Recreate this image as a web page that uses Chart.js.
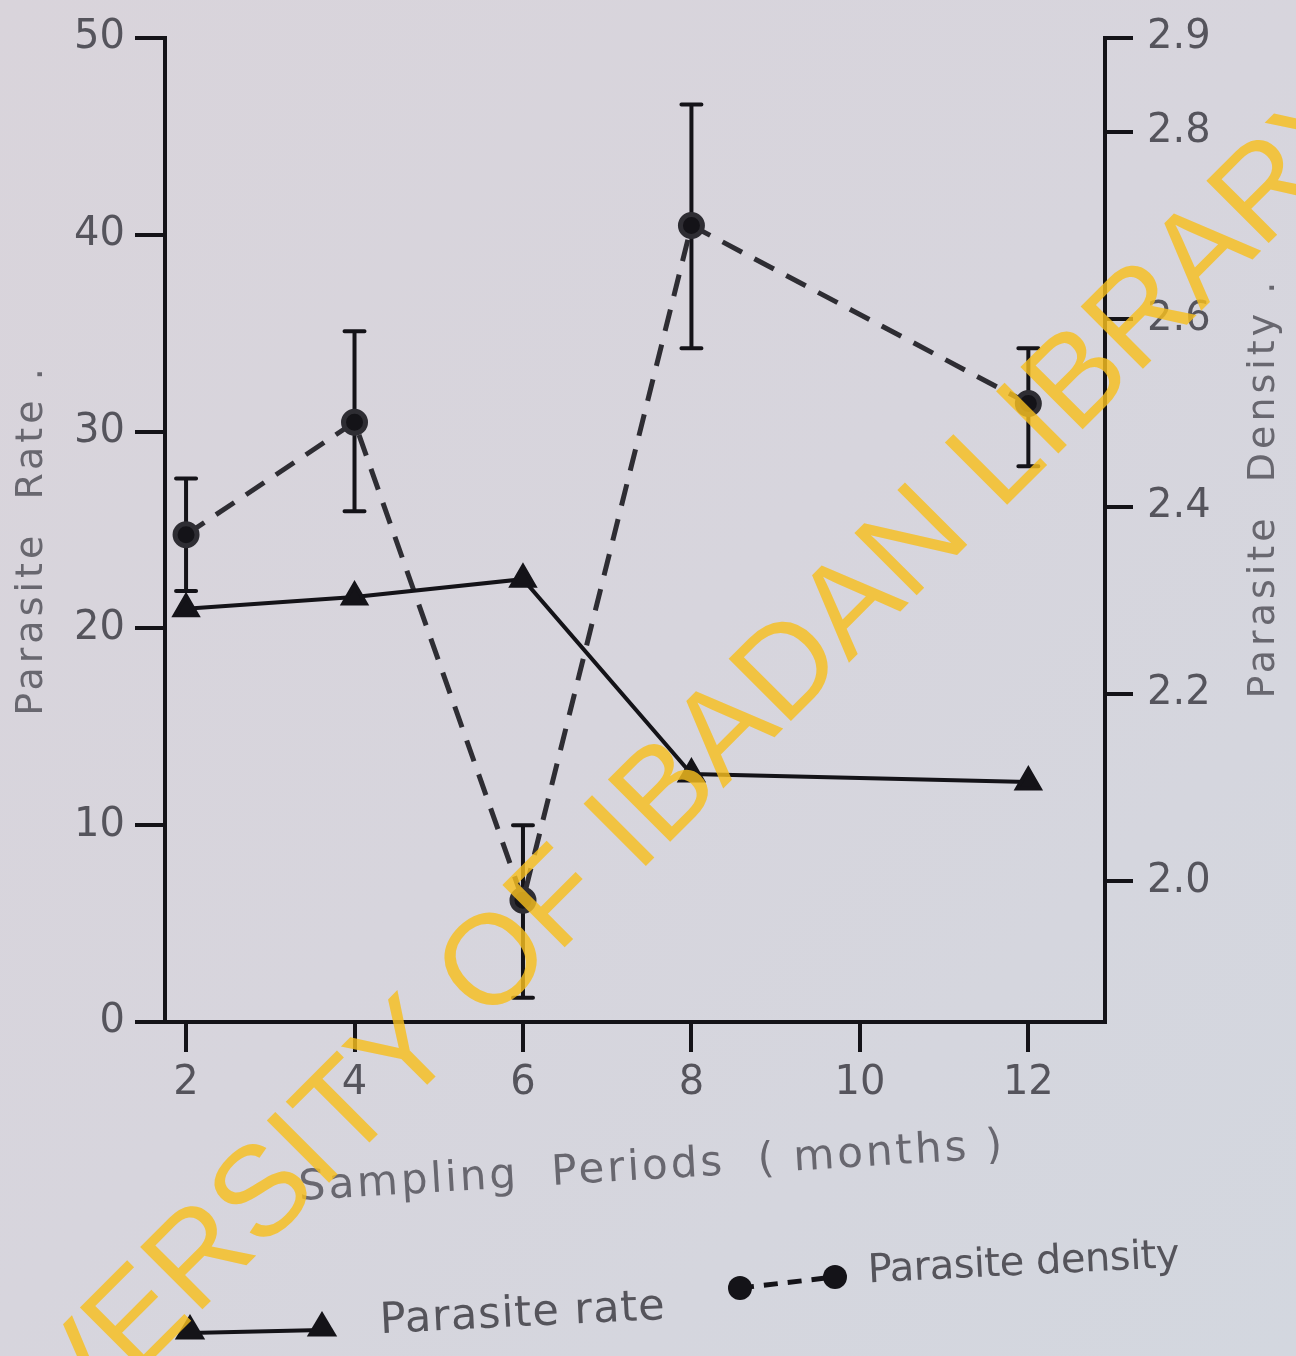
<!DOCTYPE html>
<html>
<head>
<meta charset="utf-8">
<script src="https://cdn.jsdelivr.net/npm/chart.js@4.4.1/dist/chart.umd.min.js"></script>
<style>
  html,body{margin:0;padding:0;}
  body{width:1296px;height:1356px;background:linear-gradient(135deg,#d9d4db 0%,#d7d5dd 50%,#d3d7df 100%);overflow:hidden;}
  canvas{display:block;}
</style>
</head>
<body>
<canvas id="c" width="1296" height="1356"></canvas>
<script>
// ---- data ----
const months = [2, 4, 6, 8, 12];
const xTicks = [2, 4, 6, 8, 10, 12];
const rateTicks = [0, 10, 20, 30, 40, 50];
const densityTicks = [2.0, 2.2, 2.4, 2.6, 2.8, 2.9];
const parasiteRate = [21.0, 21.6, 22.5, 12.6, 12.2];
const parasiteDensity = [2.37, 2.49, 1.98, 2.70, 2.51];
const densityLow = [2.31, 2.395, 1.876, 2.569, 2.443];
const densityHigh = [2.43, 2.587, 2.06, 2.829, 2.569];
const xTitle = 'Sampling  Periods  ( months )';
const yTitle = 'Parasite  Rate .';
const y2Title = 'Parasite  Density .';
const legendRate = 'Parasite rate';
const legendDensity = 'Parasite density';
const watermark = 'UNIVERSITY OF IBADAN LIBRARY';

const INK = '#141318';
const LABEL = '#55545c';
const FONT = '"DejaVu Sans", sans-serif';

const errorBars = {
  id: 'errorBars',
  beforeDatasetsDraw(chart) {
    const ctx = chart.ctx, xs = chart.scales.x, ys = chart.scales.y2;
    ctx.save();
    ctx.strokeStyle = INK; ctx.lineWidth = 4; ctx.lineCap = 'round';
    months.forEach((m, i) => {
      const px = xs.getPixelForValue(m);
      const t = ys.getPixelForValue(densityHigh[i]);
      const b = ys.getPixelForValue(densityLow[i]);
      ctx.beginPath();
      ctx.moveTo(px, t); ctx.lineTo(px, b);
      ctx.moveTo(px - 10, t); ctx.lineTo(px + 10, t);
      ctx.moveTo(px - 10, b); ctx.lineTo(px + 10, b);
      ctx.stroke();
    });
    ctx.restore();
  }
};

function tri(ctx, x, y, r) {
  ctx.beginPath();
  ctx.moveTo(x, y - r);
  ctx.lineTo(x + r * 0.95, y + r * 0.6);
  ctx.lineTo(x - r * 0.95, y + r * 0.6);
  ctx.closePath(); ctx.fill();
}

const decorations = {
  id: 'decorations',
  afterDraw(chart) {
    const ctx = chart.ctx;
    ctx.save();
    // axis titles
    ctx.fillStyle = '#68676f';
    ctx.textAlign = 'center'; ctx.textBaseline = 'middle';
    ctx.font = '38px ' + FONT;
    ctx.letterSpacing = '4px';
    ctx.save(); ctx.translate(32, 540); ctx.rotate(-Math.PI / 2); ctx.fillText(yTitle, 0, 0); ctx.restore();
    ctx.save(); ctx.translate(1264, 488); ctx.rotate(-Math.PI / 2); ctx.fillText(y2Title, 0, 0); ctx.restore();
    ctx.font = '42px ' + FONT;
    ctx.letterSpacing = '3px';
    ctx.save(); ctx.translate(652, 1168); ctx.rotate(-0.06); ctx.fillText(xTitle, 0, 0); ctx.restore();
    ctx.letterSpacing = '0px';

    // legend
    ctx.fillStyle = INK; ctx.strokeStyle = INK;
    ctx.lineWidth = 4;
    ctx.beginPath(); ctx.moveTo(190, 1333); ctx.lineTo(322, 1330); ctx.stroke();
    tri(ctx, 190, 1330, 16); tri(ctx, 322, 1327, 16);
    ctx.lineWidth = 5; ctx.setLineDash([14, 10]);
    ctx.beginPath(); ctx.moveTo(740, 1288); ctx.lineTo(835, 1277); ctx.stroke();
    ctx.setLineDash([]);
    ctx.beginPath(); ctx.arc(740, 1288, 12, 0, Math.PI * 2); ctx.fill();
    ctx.beginPath(); ctx.arc(835, 1277, 12, 0, Math.PI * 2); ctx.fill();
    ctx.fillStyle = '#55545b';
    ctx.textAlign = 'left';
    ctx.font = '43px ' + FONT; ctx.letterSpacing = '1px';
    ctx.save(); ctx.translate(380, 1322); ctx.rotate(-0.05); ctx.fillText(legendRate, 0, 0); ctx.restore();
    ctx.font = '40px ' + FONT; ctx.letterSpacing = '-0.5px';
    ctx.save(); ctx.translate(868, 1272); ctx.rotate(-0.05); ctx.fillText(legendDensity, 0, 0); ctx.restore();
    ctx.letterSpacing = '0px';

    // watermark
    ctx.font = '128px "Liberation Sans", sans-serif';
    ctx.fillStyle = 'rgba(246,190,30,0.82)';
    ctx.textBaseline = 'middle'; ctx.textAlign = 'left';
    const pre = ctx.measureText('UNIVERSITY ').width + ctx.measureText('O').width / 2;
    ctx.translate(497, 965); ctx.rotate(-Math.PI / 4);
    ctx.fillText(watermark, -pre, 0);
    ctx.restore();
  }
};

const axisCommon = (len) => ({
  grid: { display: true, drawOnChartArea: false, drawTicks: true, tickLength: len, lineWidth: 4, color: INK },
  border: { display: true, width: 4, color: INK }
});

new Chart(document.getElementById('c'), {
  type: 'line',
  data: {
    datasets: [
      {
        label: legendRate,
        data: months.map((m, i) => ({ x: m, y: parasiteRate[i] })),
        yAxisID: 'y',
        borderColor: INK, backgroundColor: INK, borderWidth: 4,
        pointStyle: 'triangle', pointRadius: 13, pointHoverRadius: 13,
        tension: 0
      },
      {
        label: legendDensity,
        data: months.map((m, i) => ({ x: m, y: parasiteDensity[i] })),
        yAxisID: 'y2',
        borderColor: '#2e2d33', backgroundColor: INK, borderWidth: 5,
        borderDash: [22, 14],
        pointStyle: 'circle', pointRadius: 11, pointHoverRadius: 11,
        tension: 0
      }
    ]
  },
  options: {
    responsive: false, animation: false, devicePixelRatio: 1,
    layout: { padding: { top: 36, left: 0, right: 0, bottom: 0 } },
    plugins: { legend: { display: false }, tooltip: { enabled: false } },
    scales: {
      x: Object.assign({
        type: 'linear', position: 'bottom', min: 1.75, max: 12.91,
        afterFit(s) { s.height = 334; },
        afterBuildTicks(s) { s.ticks = xTicks.map(v => ({ value: v })); },
        ticks: { color: LABEL, font: { family: FONT, size: 40 }, padding: 8 }
      }, axisCommon(30)),
      y: Object.assign({
        type: 'linear', position: 'left', min: 0, max: 50,
        afterFit(s) { s.width = 165; },
        afterBuildTicks(s) { s.ticks = rateTicks.map(v => ({ value: v })); },
        ticks: { color: LABEL, font: { family: FONT, size: 40 }, padding: 10 }
      }, axisCommon(30)),
      y2: Object.assign({
        type: 'linear', position: 'right', min: 1.85, max: 2.9,
        afterFit(s) { s.width = 191; },
        afterBuildTicks(s) { s.ticks = densityTicks.map(v => ({ value: v })); },
        ticks: { color: LABEL, font: { family: FONT, size: 40 }, padding: 14,
          callback: v => Number(v).toFixed(1) }
      }, axisCommon(28))
    }
  },
  plugins: [errorBars, decorations]
});
</script>
</body>
</html>
